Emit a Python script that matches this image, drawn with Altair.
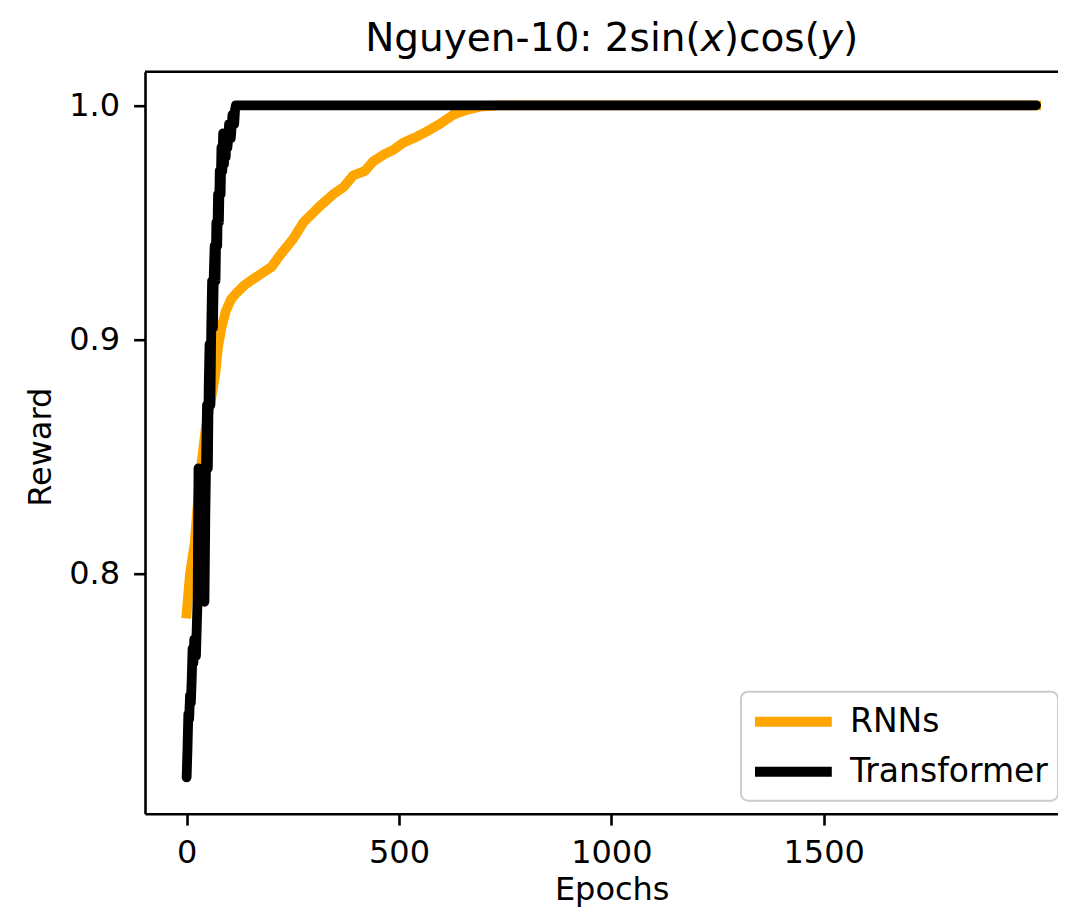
import altair as alt
import pandas as pd

# ---------------- data ----------------
rnn_epoch = [0, 8, 19, 31, 45, 58, 68, 74, 82, 92, 104, 118, 135, 150, 175, 200,
             220, 251, 275, 314, 345, 369, 392, 420, 439, 465, 487, 510, 535, 557,
             596, 628, 659, 691, 737, 2000]
rnn_reward = [0.783, 0.800, 0.813, 0.841, 0.862, 0.875, 0.886, 0.897, 0.905, 0.912,
              0.917, 0.920, 0.923, 0.925, 0.928, 0.931, 0.936, 0.943, 0.950, 0.957,
              0.962, 0.965, 0.970, 0.972, 0.976, 0.979, 0.981, 0.984, 0.986, 0.988,
              0.992, 0.996, 0.998, 0.9994, 1.0, 1.0]

tr_epoch = [0, 2, 4, 6, 8, 10, 12, 14, 16, 18, 20, 22, 24, 26, 28, 30, 32, 34, 36,
            38, 40, 42, 44, 46, 48, 50, 52, 54, 56, 58, 60, 62, 64, 66, 68, 70, 72,
            74, 76, 78, 80, 82, 84, 86, 88, 90, 92, 94, 96, 98, 100, 104, 108, 112,
            114, 116, 2000]
tr_reward = [0.713, 0.725, 0.740, 0.738, 0.748, 0.745, 0.755, 0.768, 0.762, 0.772,
             0.770, 0.765, 0.778, 0.790, 0.845, 0.842, 0.800, 0.792, 0.812, 0.790,
             0.803, 0.788, 0.825, 0.850, 0.872, 0.845, 0.880, 0.898, 0.872, 0.905,
             0.925, 0.905, 0.928, 0.940, 0.925, 0.950, 0.940, 0.962, 0.950, 0.972,
             0.962, 0.982, 0.972, 0.988, 0.975, 0.986, 0.978, 0.988, 0.982, 0.986,
             0.992, 0.986, 0.996, 0.992, 0.998, 1.0, 1.0]

series_names = ["RNNs", "Transformer"]
series_colors = ["#ffa500", "#000000"]
x_ticks = [0, 500, 1000, 1500]
y_ticks = [0.8, 0.9, 1.0]
title_parts = ["Nguyen-10: 2sin(", "x", ")cos(", "y", ")"]
title_styles = ["normal", "italic", "normal", "italic", "normal"]

# ---------------- layout / style ----------------
W, H = 913, 742
X_DOMAIN = [-98, 2051.7]
Y_DOMAIN = [0.6975, 1.01435]
FONT = "DejaVu Sans"
FS = 32
TFS = 39
LW = 2.6
AXES_CENTER = 466.7  # center of the (uncropped) axes, relative to plot left

df = pd.concat([
    pd.DataFrame({"epoch": rnn_epoch, "reward": rnn_reward, "series": "RNNs"}),
    pd.DataFrame({"epoch": tr_epoch, "reward": tr_reward, "series": "Transformer"}),
])

x_enc = alt.X("epoch:Q",
              scale=alt.Scale(domain=X_DOMAIN, nice=False, zero=False),
              axis=alt.Axis(values=x_ticks, format="d", labelFontSize=FS, labelFont=FONT,
                            labelColor="black", tickSize=11.4, tickWidth=LW, tickColor="black",
                            domainColor="black", domainWidth=LW, grid=False, labelPadding=12,
                            labelFlush=False, labelOverlap=False,
                            title="Epochs", titleFontSize=FS, titleFont=FONT,
                            titleFontWeight="normal", titleColor="black",
                            titleX=AXES_CENTER, titleY=85.5, titleAlign="center",
                            titleBaseline="alphabetic"))
y_enc = alt.Y("reward:Q",
              scale=alt.Scale(domain=Y_DOMAIN, nice=False, zero=False),
              axis=alt.Axis(values=y_ticks, format=".1f", labelFontSize=FS, labelFont=FONT,
                            labelColor="black", tickSize=11.4, tickWidth=LW, tickColor="black",
                            domainColor="black", domainWidth=LW, grid=False, labelPadding=14,
                            labelFlush=False, labelOverlap=False,
                            title="Reward", titleFontSize=FS, titleFont=FONT,
                            titleFontWeight="normal", titleColor="black",
                            titleAngle=270, titleX=-95, titleY=375, titleAlign="center",
                            titleBaseline="alphabetic"))
color_enc = alt.Color("series:N",
                      scale=alt.Scale(domain=series_names, range=series_colors),
                      legend=alt.Legend(title=None, orient="none", legendX=596, legendY=620,
                                        symbolType="M-1,0H3.8", symbolSize=1024,
                                        symbolStrokeWidth=10, labelFontSize=33,
                                        labelFont=FONT, labelColor="black", labelOffset=58,
                                        labelLimit=500,
                                        rowPadding=9, padding=9, fillColor="white",
                                        strokeColor="#cccccc", cornerRadius=7))

rnn_line = alt.Chart(df).transform_filter(alt.datum.series == "RNNs").mark_line(
    strokeWidth=9.8, strokeCap="square", strokeJoin="round"
).encode(x=x_enc, y=y_enc, color=color_enc)

tr_line = alt.Chart(df).transform_filter(alt.datum.series == "Transformer").mark_line(
    strokeWidth=9.8, strokeCap="round", strokeJoin="round"
).encode(x=x_enc, y=y_enc, color=color_enc)

top_spine = alt.Chart(pd.DataFrame({"a": [0]})).mark_rule(
    color="black", strokeWidth=LW
).encode(x=alt.value(0), x2=alt.value(W), y=alt.value(0))

# title built from segments so that x and y can be italic
em = {"Nguyen-10: 2sin(": 8.605, "x": 0.592, ")cos(": 2.463, "y": 0.592, ")": 0.390}
total = sum(em[p] for p in title_parts) * TFS
pos = AXES_CENTER - total / 2
title_layers = []
for part, style in zip(title_parts, title_styles):
    title_layers.append(
        alt.Chart(pd.DataFrame({"t": [part]})).mark_text(
            align="left", baseline="alphabetic", fontSize=TFS, font=FONT,
            fontStyle=style, color="black"
        ).encode(text="t:N", x=alt.value(pos), y=alt.value(-21))
    )
    pos += em[part] * TFS

chart = alt.layer(rnn_line, tr_line, top_spine, *title_layers).properties(
    width=W, height=H,
    autosize=alt.AutoSizeParams(type="none"),
    padding={"left": 137, "top": 63.7, "right": 0, "bottom": 94},
).configure_view(stroke="transparent").configure_legend(strokeWidth=2)

chart.save("out.html", embed_options={"renderer": "svg", "actions": False})
